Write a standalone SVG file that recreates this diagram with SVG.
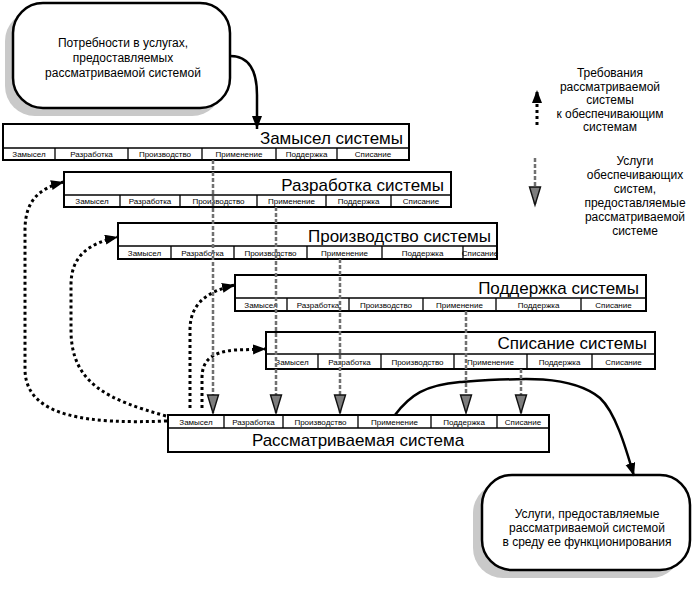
<svg xmlns="http://www.w3.org/2000/svg" width="695" height="589" viewBox="0 0 695 589">
<defs>
<style>
text{font-family:"Liberation Sans",Arial,sans-serif;fill:#000}
.box{fill:#fff;stroke:#000;stroke-width:2}
.seg{stroke:#000;stroke-width:1.3}
.ph{font-size:8px;text-anchor:middle}
.title{font-size:17px;text-anchor:end}
.rb{fill:#fff;stroke:#000;stroke-width:2.5}
.sh{fill:#c9c9c9}
.lbl{font-size:12px;text-anchor:middle}
.dot{fill:none;stroke:#000;stroke-width:3;stroke-dasharray:3 3}
.gray{fill:none;stroke:#707070;stroke-width:2.5;stroke-dasharray:4 2}
.solid{fill:none;stroke:#000;stroke-width:2.5}
</style>
<marker id="ah" markerUnits="userSpaceOnUse" markerWidth="14" markerHeight="12" refX="13" refY="5" orient="auto">
<path d="M0,0 L13,5 L0,10 Z" fill="#000"/>
</marker>
<marker id="gh" markerUnits="userSpaceOnUse" markerWidth="22" markerHeight="16" refX="19" refY="7" orient="auto">
<path d="M1,1.5 L19,7 L1,12.5 Z" fill="#7d7d7d" stroke="#111" stroke-width="1.4"/>
</marker>
</defs>

<g id="needs">
<rect class="sh" x="5" y="11" width="217" height="105" rx="30"/>
<rect class="rb" x="13" y="3" width="217" height="105" rx="30"/>
<text class="lbl" x="123" y="47">Потребности в услугах,</text>
<text class="lbl" x="123" y="62">предоставляемых</text>
<text class="lbl" x="123" y="77">рассматриваемой системой</text>
</g>

<g id="services-out">
<rect class="sh" x="473" y="483" width="208" height="95" rx="30"/>
<rect class="rb" x="482" y="475" width="208" height="95" rx="30"/>
<text class="lbl" x="587" y="518">Услуги, предоставляемые</text>
<text class="lbl" x="587" y="532">рассматриваемой системой</text>
<text class="lbl" x="587" y="546">в среду ее функционирования</text>
</g>

<g id="legend">
<path class="dot" d="M537,125 L537,90" marker-end="url(#ah)"/>
<text class="lbl" x="610" y="77">Требования</text>
<text class="lbl" x="610" y="91">рассматриваемой</text>
<text class="lbl" x="610" y="104">системы</text>
<text class="lbl" x="610" y="118">к обеспечивающим</text>
<text class="lbl" x="610" y="131">системам</text>
<path class="gray" d="M535,158 L535,205" marker-end="url(#gh)"/>
<text class="lbl" x="635" y="165">Услуги</text>
<text class="lbl" x="635" y="179">обеспечивающих</text>
<text class="lbl" x="635" y="193">систем,</text>
<text class="lbl" x="635" y="207">предоставляемые</text>
<text class="lbl" x="635" y="221">рассматриваемой</text>
<text class="lbl" x="635" y="235">системе</text>
</g>

<g id="concept">
<rect class="box" x="3" y="124" width="406" height="36"/>
<line class="seg" x1="3" y1="148" x2="409" y2="148"/>
<path class="seg" d="M55,148V160M128,148V160M202,148V160M276,148V160M337,148V160"/>
<text class="title" x="403" y="144">Замысел системы</text>
<text class="ph" x="29" y="157">Замысел</text>
<text class="ph" x="91.5" y="157">Разработка</text>
<text class="ph" x="165" y="157">Производство</text>
<text class="ph" x="239" y="157">Применение</text>
<text class="ph" x="306.5" y="157">Поддержка</text>
<text class="ph" x="373" y="157">Списание</text>
</g>

<g id="development">
<rect class="box" x="64" y="172" width="387" height="35"/>
<line class="seg" x1="64" y1="195" x2="451" y2="195"/>
<path class="seg" d="M120,195V207M180,195V207M257,195V207M326,195V207M391,195V207"/>
<text class="title" x="444" y="191">Разработка системы</text>
<text class="ph" x="92" y="204">Замысел</text>
<text class="ph" x="150" y="204">Разработка</text>
<text class="ph" x="218.5" y="204">Производство</text>
<text class="ph" x="291.5" y="204">Применение</text>
<text class="ph" x="358.5" y="204">Поддержка</text>
<text class="ph" x="421" y="204">Списание</text>
</g>

<g id="production">
<rect class="box" x="118" y="223" width="379" height="36"/>
<line class="seg" x1="118" y1="246" x2="497" y2="246"/>
<path class="seg" d="M171,246V259M234,246V259M307,246V259M382,246V259M463,246V259"/>
<text class="title" x="491" y="242">Производство системы</text>
<text class="ph" x="144.5" y="256">Замысел</text>
<text class="ph" x="202.5" y="256">Разработка</text>
<text class="ph" x="270.5" y="256">Производство</text>
<text class="ph" x="344.5" y="256">Применение</text>
<text class="ph" x="422.5" y="256">Поддержка</text>
<text class="ph" x="480" y="256">Списание</text>
</g>

<g id="support">
<rect class="box" x="235" y="275" width="411" height="36"/>
<line class="seg" x1="235" y1="298" x2="646" y2="298"/>
<path class="seg" d="M287,298V311M349,298V311M423,298V311M496,298V311M581,298V311"/>
<text class="title" x="639" y="294">Поддержка системы</text>
<text class="ph" x="261" y="308">Замысел</text>
<text class="ph" x="318" y="308">Разработка</text>
<text class="ph" x="386" y="308">Производство</text>
<text class="ph" x="459.5" y="308">Применение</text>
<text class="ph" x="538.5" y="308">Поддержка</text>
<text class="ph" x="613.5" y="308">Списание</text>
</g>

<g id="disposal">
<rect class="box" x="266" y="332" width="389" height="37"/>
<line class="seg" x1="266" y1="354" x2="655" y2="354"/>
<path class="seg" d="M318,354V369M381,354V369M454,354V369M527,354V369M592,354V369"/>
<text class="title" x="647" y="349">Списание системы</text>
<text class="ph" x="292" y="365">Замысел</text>
<text class="ph" x="349.5" y="365">Разработка</text>
<text class="ph" x="417.5" y="365">Производство</text>
<text class="ph" x="490.5" y="365">Применение</text>
<text class="ph" x="559.5" y="365">Поддержка</text>
<text class="ph" x="623.5" y="365">Списание</text>
</g>

<g id="system">
<rect class="box" x="168" y="415" width="381" height="37"/>
<line class="seg" x1="168" y1="428" x2="549" y2="428"/>
<path class="seg" d="M224,415V428M283,415V428M358,415V428M431,415V428M497,415V428"/>
<text class="ph" x="196" y="425">Замысел</text>
<text class="ph" x="253.5" y="425">Разработка</text>
<text class="ph" x="320.5" y="425">Производство</text>
<text class="ph" x="394.5" y="425">Применение</text>
<text class="ph" x="464" y="425">Поддержка</text>
<text class="ph" x="523" y="425">Списание</text>
<text x="358" y="446" font-size="17" text-anchor="middle">Рассматриваемая система</text>
</g>

<g id="connectors">
<path class="solid" d="M230,56 C250,56 257,72 257,95 L257,129" marker-end="url(#ah)"/>
<path class="solid" d="M395,415 C410,395 425,385 460,382 C520,378 570,374 600,398 C615,412 625,445 634,476" marker-end="url(#ah)"/>
<path class="dot" d="M167,421 C90,424 26,418 25,370 L25,230 C25,200 40,188 64,182" marker-end="url(#ah)"/>
<path class="dot" d="M166,416 C110,400 71,385 71,330 L71,285 C71,255 90,243 118,237" marker-end="url(#ah)"/>
<path class="dot" d="M190,408 L190,330 C190,305 205,292 235,285" marker-end="url(#ah)"/>
<path class="dot" d="M202,408 L202,378 C202,360 212,352 235,350 L266,349" marker-end="url(#ah)"/>
<path class="gray" d="M213,160 L213,413" marker-end="url(#gh)"/>
<path class="gray" d="M276,207 L276,413" marker-end="url(#gh)"/>
<path class="gray" d="M340,259 L340,413" marker-end="url(#gh)"/>
<path class="gray" d="M466,311 L466,413" marker-end="url(#gh)"/>
<path class="gray" d="M521,369 L521,413" marker-end="url(#gh)"/>
</g>
</svg>
